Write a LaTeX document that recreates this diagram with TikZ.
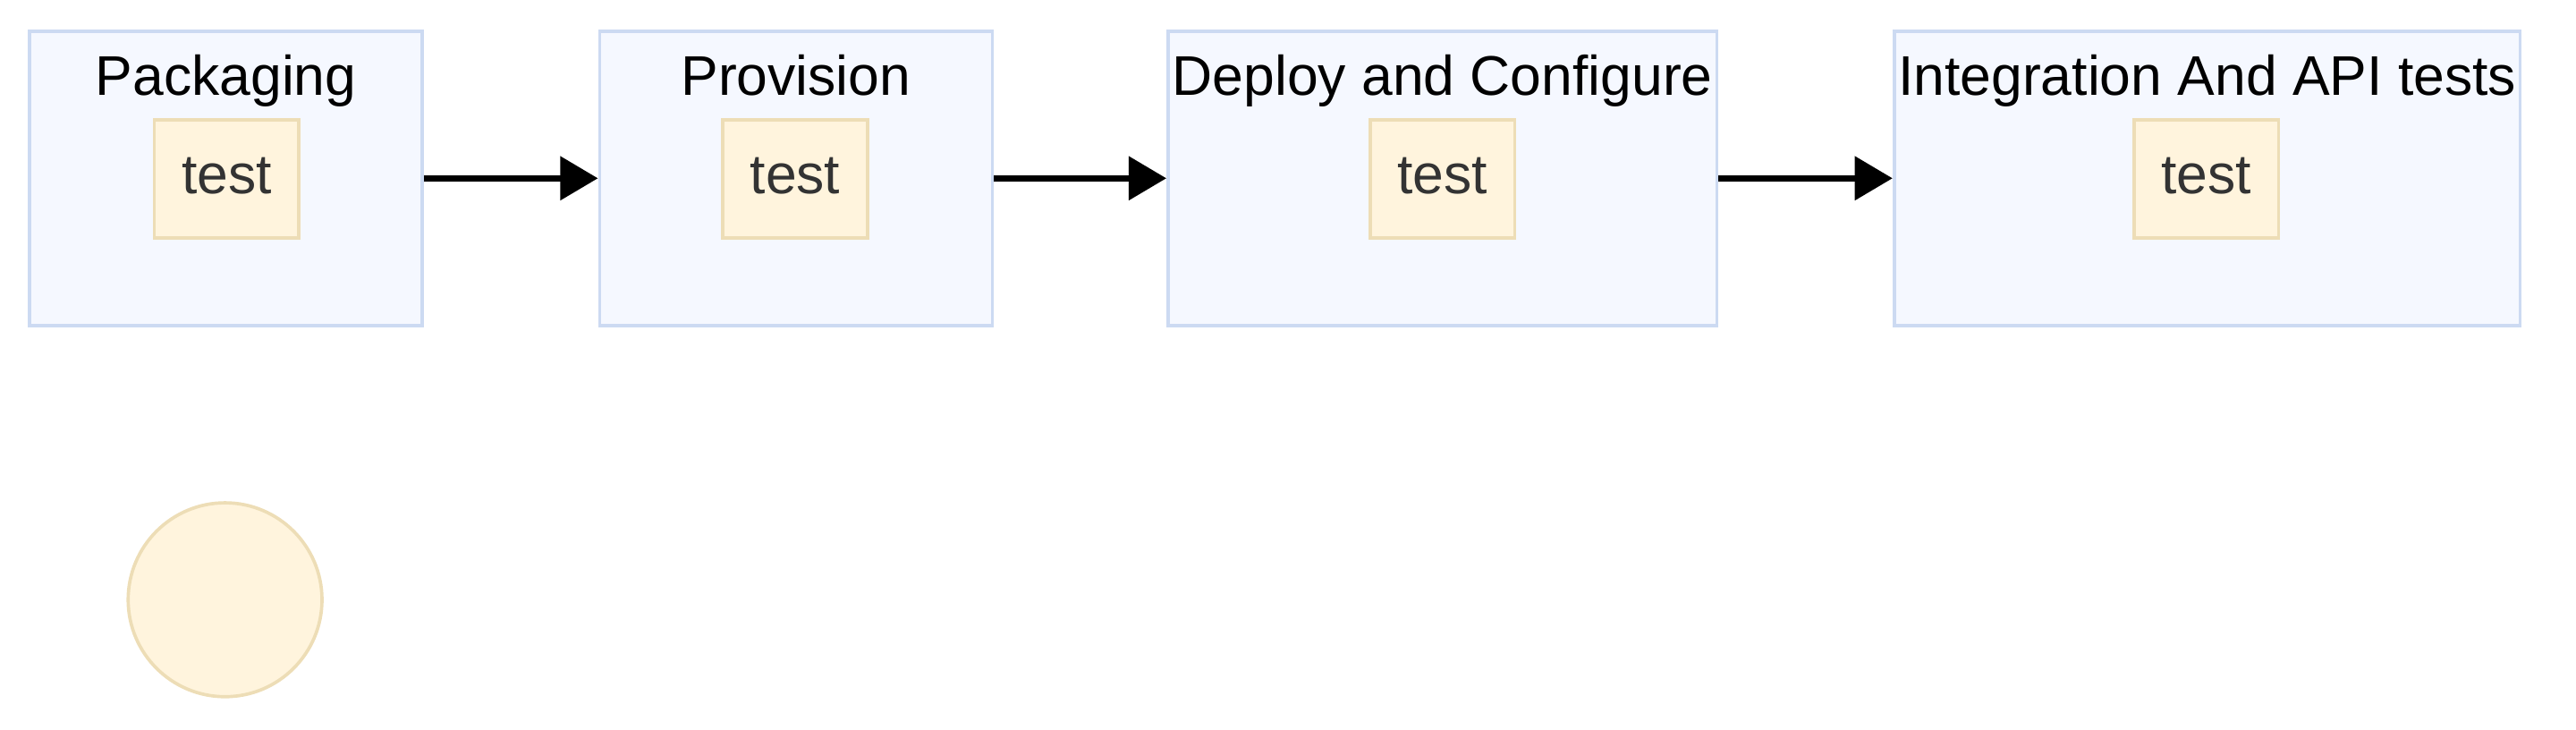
\documentclass[tikz,border=0pt]{standalone}
\usepackage{fontspec}
\setmainfont{Liberation Sans}
\usetikzlibrary{arrows.meta}
\definecolor{stagefill}{HTML}{F5F8FF}
\definecolor{stageline}{HTML}{CCDAF2}
\definecolor{taskfill}{HTML}{FFF4DD}
\definecolor{taskline}{HTML}{EDDDB6}
\definecolor{tasktext}{HTML}{333333}
\begin{document}
\begin{tikzpicture}[
x=1pt,y=-1pt,
font=\fontsize{34}{40}\selectfont,
stage/.style={%
draw=stageline,
fill=stagefill,
line width=2pt,
minimum height=179pt,
inner sep=0pt
},
task/.style={%
draw=taskline,
fill=taskfill,
line width=2pt,
text=tasktext,
text depth=4pt,
minimum width=88pt,
minimum height=72pt,
inner sep=0pt
},
arr/.style={%
line width=4pt,
-{Triangle[length=23pt,width=26pt]}
}
]
\useasboundingbox(0,0)rectangle(1568,444);
%% Stages
\node[stage,minimum width=239pt]at(137.5,108.5)(pack){};
\node[stage,minimum width=239pt]at(484.5,108.5)(prov){};
\node[stage,minimum width=334pt]at(878,108.5)(depl){};
\node[stage,minimum width=381pt]at(1343.5,108.5)(intg){};
%% Titles
\node[anchor=base]at(137.5,58)(packt){Packaging};
\node[anchor=base]at(484.5,58)(provt){Provision};
\node[anchor=base]at(878,58)(deplt){Deploy and Configure};
\node[anchor=base]at(1343.5,58)(intgt){Integration And API tests};
%% Tasks
\node[task]at(138,109)(t1){test};
\node[task]at(484,109)(t2){test};
\node[task]at(878,109)(t3){test};
\node[task]at(1343,109)(t4){test};
%% Flow
\draw[arr](pack)--(prov);
\draw[arr](prov)--(depl);
\draw[arr](depl)--(intg);
%% Start
\node[circle,draw=taskline,fill=taskfill,line width=2pt,minimum size=118pt,inner sep=0pt]at(137,365)(start){};
\end{tikzpicture}
\end{document}
